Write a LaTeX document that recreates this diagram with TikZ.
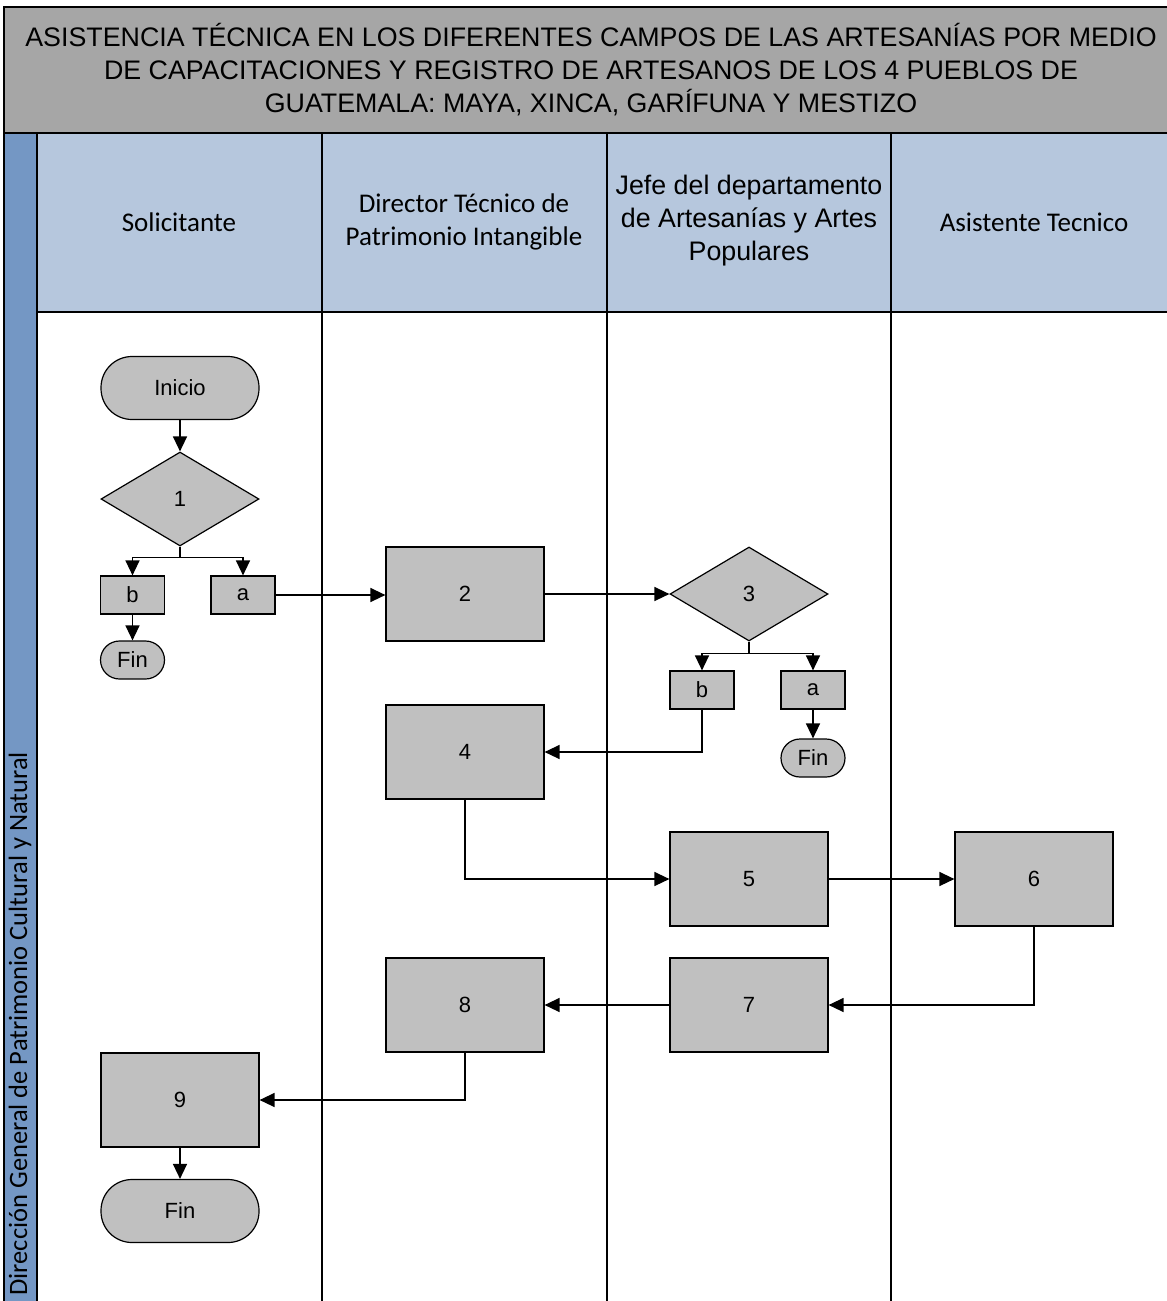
\documentclass[tikz,border=0pt]{standalone}
\usepackage{fontspec}
\setmainfont{Liberation Sans}
\newfontfamily\calibri{Carlito}
\usetikzlibrary{shapes.geometric,arrows.meta}
\definecolor{titlegray}{RGB}{166,166,166}
\definecolor{lanehead}{RGB}{182,199,221}
\definecolor{stripblue}{RGB}{116,151,196}
\definecolor{shapefill}{RGB}{192,192,192}

\begin{document}
\begin{tikzpicture}[x=1pt,y=-1pt,
  frame/.style={draw=black, line width=1.8pt},
  shapetext/.style={font=\fontsize{22}{26}\selectfont},
  procbox/.style={shapetext, draw, fill=shapefill, line width=1.2pt, inner sep=0pt,
    minimum width=158pt, minimum height=94pt},
  smallbox/.style={shapetext, draw, fill=shapefill, line width=1.2pt, inner sep=0pt,
    minimum width=64pt, minimum height=38pt},
  terminal/.style={shapetext, draw, fill=shapefill, line width=1.2pt, inner sep=0pt,
    minimum width=158pt, minimum height=63pt, rounded corners=31pt},
  smallterminal/.style={shapetext, draw, fill=shapefill, line width=1.2pt, inner sep=0pt,
    minimum width=64pt, minimum height=38pt, rounded corners=19pt},
  decision/.style={shapetext, diamond, draw, fill=shapefill, line width=1.2pt, inner sep=0pt,
    aspect=1.68, minimum width=158pt, minimum height=94pt},
  flow/.style={line width=1.4pt, -{Triangle[length=15pt,width=14pt]}},
  lanelabel/.style={align=center, font=\calibri\fontsize{27}{33}\selectfont},
]
\useasboundingbox (0,0) rectangle (1167,1301);

\begin{scope}
\clip (0,0) rectangle (1167,1301);
% title band
\draw[frame, fill=titlegray] (4,7) rectangle (1200,133);
% lane header band
\draw[frame, fill=lanehead] (37,133) rectangle (1200,312);
% vertical strip with the organisation name
\draw[frame, fill=stripblue] (4,133) rectangle (37,1320);
% lane dividers
\foreach \lx in {322,607,891}
  \draw[frame] (\lx,133) -- (\lx,1320);
\end{scope}

\node[align=center, font=\fontsize{26.8}{33}\selectfont] (title) at (591,70)
  {ASISTENCIA TÉCNICA EN LOS DIFERENTES CAMPOS DE LAS ARTESANÍAS POR MEDIO\\
   DE CAPACITACIONES Y REGISTRO DE ARTESANOS DE LOS 4 PUEBLOS DE\\
   GUATEMALA: MAYA, XINCA, GARÍFUNA Y MESTIZO};

\node[lanelabel] (lane1) at (179,222) {Solicitante};
\node[lanelabel] (lane2) at (464,222) {Director Técnico de\\Patrimonio Intangible};
\node[align=center, font=\fontsize{26.8}{33}\selectfont] (lane3) at (749,221)
  {Jefe del departamento\\de Artesanías y Artes\\Populares};
\node[lanelabel] (lane4) at (1034,222) {Asistente Tecnico};

\node[font=\calibri\fontsize{26.5}{30}\selectfont, rotate=90, anchor=west] (org) at (20,1299)
  {Dirección General de Patrimonio Cultural y Natural};

% flow shapes
\node[terminal] (inicio) at (180,388) {Inicio};
\node[decision] (d1) at (180,499) {1};
\node[smallbox] (b1) at (132.5,595) {b};
\node[smallbox] (a1) at (243,595) {a};
\node[smallterminal] (fin1) at (132.5,660) {Fin};
\node[procbox] (p2) at (465,594) {2};
\node[decision] (d3) at (749,594) {3};
\node[smallbox] (b3) at (702,690) {b};
\node[smallbox] (a3) at (813,690) {a};
\node[smallterminal] (fin3) at (813,758) {Fin};
\node[procbox] (p4) at (465,752) {4};
\node[procbox] (p5) at (749,879) {5};
\node[procbox] (p6) at (1034,879) {6};
\node[procbox] (p7) at (749,1005) {7};
\node[procbox] (p8) at (465,1005) {8};
\node[procbox] (p9) at (180,1100) {9};
\node[terminal] (fin9) at (180,1211) {Fin};

% connectors
\draw[flow] (inicio) -- (d1);
\draw[flow] (d1.south) -- ++(0,11) -| (b1);
\draw[flow] (d1.south) -- ++(0,11) -| (a1);
\draw[flow] (b1) -- (fin1);
\draw[flow] (a1.east) -- (a1.east -| p2.west);
\draw[flow] (p2) -- (d3);
\draw[flow] (d3.south) -- ++(0,12) -| (b3);
\draw[flow] (d3.south) -- ++(0,12) -| (a3);
\draw[flow] (a3) -- (fin3);
\draw[flow] (b3.south) |- (p4.east);
\draw[flow] (p4.south) |- (p5.west);
\draw[flow] (p5) -- (p6);
\draw[flow] (p6.south) |- (p7.east);
\draw[flow] (p7) -- (p8);
\draw[flow] (p8.south) |- (p9.east);
\draw[flow] (p9) -- (fin9);
\end{tikzpicture}
\end{document}
